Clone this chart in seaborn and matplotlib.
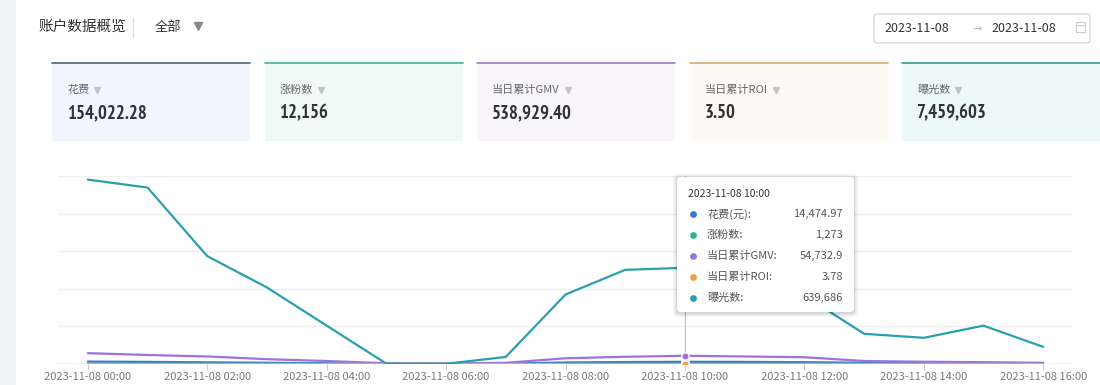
import numpy as np
import pandas as pd
import matplotlib
matplotlib.use('Agg')
import matplotlib.pyplot as plt
import seaborn as sns
from matplotlib import font_manager
from matplotlib.patches import FancyBboxPatch, Rectangle

# hourly data for 2023-11-08
hours = list(range(17))
tick_hours = hours[::2]
day = '2023-11-08'

spend = [16000, 14000, 11000, 8000, 5000, 1500, 1000, 3000, 10000, 13000,
         14474.97, 14000, 12000, 8000, 8000, 7500, 7500]
fans = [1500, 1300, 1000, 700, 400, 50, 30, 150, 800, 1100,
        1273, 1200, 900, 500, 450, 450, 353]
gmv = [72000, 60000, 50000, 32000, 20000, 5000, 3000, 8000, 38000, 48000,
       54732.9, 50000, 45000, 20000, 15000, 12000, 6000]
roi = [4.2, 4.0, 3.9, 3.6, 3.4, 2.0, 1.8, 2.5, 3.3, 3.6,
       3.78, 3.7, 3.6, 3.4, 3.5, 3.5, 3.5]
views = [1226000, 1173000, 717000, 509000, 255000, 2000, 1500, 47000, 462000, 626000,
         639686, 601000, 456000, 201000, 174000, 255000, 114000]

series_names = ['花费(元)', '涨粉数', '当日累计GMV', '当日累计ROI', '曝光数']
series_values = [spend, fans, gmv, roi, views]
series_fmt = ['{:,.2f}', '{:,.0f}', '{:,.1f}', '{:.2f}', '{:,.0f}']
series_colors = ['#3a78d6', '#2bb59b', '#9b74e3', '#f0a04b', '#2a9fb0']

card_titles = ['花费', '涨粉数', '当日累计GMV', '当日累计ROI', '曝光数']
card_values = ['154,022.28', '12,156', '538,929.40', '3.50', '7,459,603']
card_edge = ['#4a6382', '#3cb59c', '#a676cc', '#d8ab72', '#2a9d93']
card_fill = ['#f2f6fc', '#effaf7', '#f8f5fb', '#fdf9f3', '#edf8f9']

hover_idx = 10

sns.set_theme(style='white')
plt.rcParams['font.family'] = ['Noto Sans CJK SC', 'DejaVu Sans']

# the card numbers use a narrow face; take the narrowest bold one available
def pick_num_font():
    files = [f.fname for f in font_manager.fontManager.ttflist]
    for key, size in [('narrow', 13.5), ('condensed', 12)]:
        for fn in files:
            low = fn.lower()
            if key in low and 'bold' in low and 'italic' not in low and 'oblique' not in low:
                return font_manager.FontProperties(fname=fn, size=size)
    return font_manager.FontProperties(family='Roboto', weight='bold', size=12)

num_prop = pick_num_font()

fig = plt.figure(figsize=(11, 3.85), dpi=100)

# page background in pixel coordinates
bg = fig.add_axes([0, 0, 1, 1], zorder=0)
bg.set_xlim(0, 1100)
bg.set_ylim(385, 0)
bg.axis('off')
bg.add_patch(Rectangle((0, 0), 16, 385, color='#f0f2f5', lw=0))

bg.text(38, 27, '账户数据概览', fontsize=10.5, color='#333333', va='center')
bg.plot([133, 133], [18, 37], color='#e2e2e2', lw=1)
bg.text(155, 27, '全部', fontsize=9.5, color='#333333', va='center')
bg.plot([198], [26], marker='v', ms=6, color='#888888')

# date range picker
bg.add_patch(FancyBboxPatch((874, 14), 216, 29, boxstyle='round,pad=0,rounding_size=3',
                            fc='white', ec='#d9d9d9', lw=1))
bg.text(917, 28.5, day, fontsize=9, color='#333333', va='center', ha='center')
bg.text(977, 29, '→', fontsize=8, color='#bbbbbb', va='center', ha='center', family='DejaVu Sans')
bg.text(1024, 28.5, day, fontsize=9, color='#333333', va='center', ha='center')
bg.add_patch(Rectangle((1076, 22), 9, 10, fc='none', ec='#cccccc', lw=0.8))
bg.plot([1076, 1085], [25, 25], color='#cccccc', lw=0.8)

# metric cards
title_texts = []
for i, (title, val) in enumerate(zip(card_titles, card_values)):
    x0 = 52 + i * 212.5
    bg.add_patch(Rectangle((x0, 63), 198, 78, fc=card_fill[i], ec='none'))
    bg.plot([x0, x0 + 198], [63, 63], color=card_edge[i], lw=1.2)
    title_texts.append(bg.text(x0 + 15, 90, title, fontsize=8, color='#666666', va='center'))
    bg.text(x0 + 15, 113, val, fontproperties=num_prop, color='#333333', va='center')
fig.canvas.draw()
for t in title_texts:
    bb = t.get_window_extent().transformed(bg.transData.inverted())
    bg.plot([bb.x1 + 8], [90], marker='v', ms=4, color='#c4c4c4')

# line chart
df = pd.DataFrame({
    'hour': np.tile(hours, len(series_names)),
    'value': np.concatenate(series_values),
    'metric': np.repeat(series_names, len(hours)),
})
ax = fig.add_axes([58 / 1100, 21 / 385, 1015 / 1100, 188 / 385], zorder=2)
ax.patch.set_alpha(0)
ax.set_yticks([0, 250000, 500000, 750000, 1000000, 1250000])
ax.yaxis.grid(True, color='#efefef', lw=1)
ax.set_axisbelow(True)
sns.lineplot(data=df, x='hour', y='value', hue='metric', hue_order=series_names,
             palette=dict(zip(series_names, series_colors)), linewidth=1.6,
             legend=False, ax=ax, zorder=3)
ax.axhline(0, color='#d6d6d6', lw=1, zorder=2)
ax.axvline(hover_idx, color='#bbbbbb', lw=0.8, zorder=2)
for vals, c in zip(series_values, series_colors):
    ax.scatter([hover_idx], [vals[hover_idx]], s=28, color=c, edgecolor='white', lw=1, zorder=4)

ax.set_xlim(-0.5, 16.5)
ax.set_ylim(0, 1250000)
ax.set_xticks(tick_hours)
ax.set_xticklabels([f'{day} {h:02d}:00' for h in tick_hours])
ax.tick_params(axis='x', length=4, width=0.8, color='#cccccc', labelsize=8,
               labelcolor='#7a7a7a', pad=2, bottom=True)
ax.tick_params(axis='y', length=0, labelleft=False)
ax.set_xlabel('')
ax.set_ylabel('')
for s in ax.spines.values():
    s.set_visible(False)

# hover tooltip
top = fig.add_axes([0, 0, 1, 1], zorder=5)
top.set_xlim(0, 1100)
top.set_ylim(385, 0)
top.axis('off')
top.patch.set_alpha(0)
for k, a in [(4, 0.04), (2.5, 0.05), (1.2, 0.07)]:
    top.add_patch(FancyBboxPatch((677 - k, 177 - k + 1), 177 + 2 * k, 135 + 2 * k,
                                 boxstyle='round,pad=0,rounding_size=4',
                                 fc='black', ec='none', alpha=a))
top.add_patch(FancyBboxPatch((677, 177), 177, 135, boxstyle='round,pad=0,rounding_size=4',
                             fc='white', ec='none'))
top.text(688, 194, f'{day} {hover_idx:02d}:00', fontsize=7.5, color='#333333', va='center')
for j, (name, vals, fmt, c) in enumerate(zip(series_names, series_values, series_fmt, series_colors)):
    yy = 214 + j * 21
    top.scatter([693], [yy], s=24, color=c, lw=0)
    top.text(707, yy, name + ':', fontsize=8, color='#555555', va='center')
    top.text(843, yy, fmt.format(vals[hover_idx]), fontsize=8, color='#555555',
             va='center', ha='right')

fig.savefig('out.png', dpi=100)
